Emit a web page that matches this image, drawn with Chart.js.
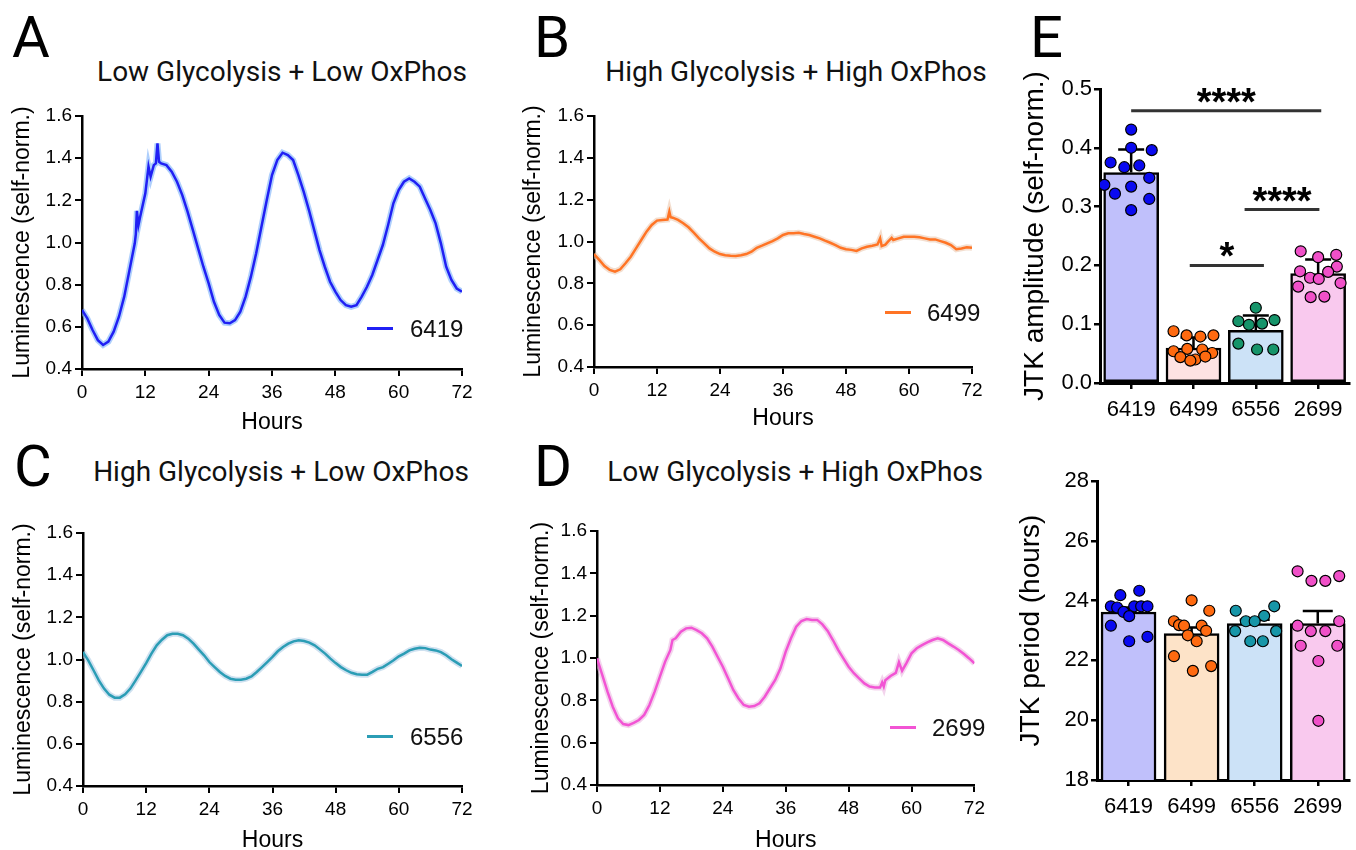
<!DOCTYPE html>
<html>
<head>
<meta charset="utf-8">
<script src="https://cdn.jsdelivr.net/npm/chart.js@4.4.1/dist/chart.umd.min.js"></script>
<style>
  html, body { margin: 0; padding: 0; background: #fff; overflow: hidden; }
  body { width: 1356px; height: 850px; position: relative; }
  canvas { position: absolute; }
  .letter, .title, .leg { position: absolute; white-space: nowrap; color: #000; }
  .letter { font-family: Roboto, sans-serif; font-size: 58px; line-height: 58px; }
  .title { font-family: Roboto, sans-serif; font-size: 28px; line-height: 28px; width: 500px; text-align: center; color: #111; }
  .leg { font-family: "Liberation Sans", Arial, sans-serif; font-size: 24px; line-height: 24px; color: #111; }
  .swatch { position: absolute; width: 26px; height: 3px; }
</style>
</head>
<body>

<div class="letter" style="left:12px;top:8px">A</div>
<div class="letter" style="left:534px;top:8px">B</div>
<div class="letter" style="left:14px;top:437px">C</div>
<div class="letter" style="left:534px;top:437px">D</div>
<div class="letter" style="left:1030px;top:8px">E</div>

<div class="title" style="left:32px;top:58px">Low Glycolysis + Low OxPhos</div>
<div class="title" style="left:546px;top:58px">High Glycolysis + High OxPhos</div>
<div class="title" style="left:31px;top:458px">High Glycolysis + Low OxPhos</div>
<div class="title" style="left:545px;top:458px">Low Glycolysis + High OxPhos</div>

<canvas id="chartA" width="480" height="340" style="left:0px;top:100px"></canvas>
<canvas id="chartB" width="480" height="340" style="left:510px;top:100px"></canvas>
<canvas id="chartC" width="480" height="345" style="left:0px;top:515px"></canvas>
<canvas id="chartD" width="480" height="345" style="left:510px;top:515px"></canvas>
<canvas id="chartAmp" width="356" height="360" style="left:1000px;top:70px"></canvas>
<canvas id="chartPer" width="356" height="375" style="left:1000px;top:460px"></canvas>

<div class="swatch" style="left:367px;top:327px;background:#2020f4"></div>
<div class="leg" style="left:410px;top:317px">6419</div>
<div class="swatch" style="left:885px;top:311px;background:#ff7425"></div>
<div class="leg" style="left:927px;top:301px">6499</div>
<div class="swatch" style="left:367px;top:735px;background:#2b9db5"></div>
<div class="leg" style="left:410px;top:725px">6556</div>
<div class="swatch" style="left:890px;top:726px;background:#f254d4"></div>
<div class="leg" style="left:932px;top:716px">2699</div>

<script>
// ---- luminescence traces (hours, self-normalised) ----
const hourTicks = [0, 12, 24, 36, 48, 60, 72];
const lumTicks = [0.4, 0.6, 0.8, 1.0, 1.2, 1.4, 1.6];

const timeA = [0,1,2,3,4,5,6,7,8,9,10,10.2,10.4,10.7,11,12,12.6,13,13.6,14,14.3,14.6,15,16,17,18,19,20,21,22,23,24,25,26,27,28,29,30,31,32,33,34,35,36,37,38,39,40,41,42,43,44,45,46,47,48,49,50,51,52,53,54,55,56,57,58,59,60,61,62,63,64,65,66,67,68,69,70,71,72];
const lum6419 = [0.680,0.640,0.585,0.537,0.514,0.530,0.577,0.648,0.743,0.870,0.996,1.040,1.150,1.083,1.120,1.233,1.360,1.312,1.367,1.375,1.470,1.383,1.375,1.367,1.336,1.288,1.225,1.146,1.060,0.972,0.885,0.806,0.719,0.656,0.620,0.617,0.632,0.672,0.743,0.838,0.949,1.075,1.200,1.320,1.391,1.426,1.415,1.391,1.320,1.241,1.154,1.059,0.964,0.885,0.814,0.767,0.727,0.703,0.695,0.703,0.743,0.790,0.846,0.917,0.988,1.083,1.186,1.249,1.288,1.304,1.288,1.265,1.209,1.154,1.091,0.996,0.885,0.822,0.782,0.767];

const timeB = [0,1,2,3,4,5,6,7,8,9,10,11,12,13,14,14.35,14.6,15,16,17,18,19,20,21,22,23,24,25,26,27,28,29,30,31,32,33,34,35,36,37,38,39,40,41,42,43,44,45,46,47,48,49,50,51,52,53,54,54.5,54.8,55.5,56,56.7,57,58,59,60,61,62,63,64,65,66,67,68,69,70,71,72];
const lum6499 = [0.940,0.912,0.883,0.864,0.856,0.867,0.896,0.927,0.967,1.007,1.047,1.079,1.100,1.103,1.105,1.143,1.116,1.114,1.103,1.087,1.068,1.042,1.015,0.991,0.967,0.951,0.940,0.934,0.932,0.931,0.934,0.940,0.951,0.970,0.980,0.991,1.002,1.015,1.031,1.039,1.039,1.042,1.036,1.031,1.023,1.015,1.004,0.994,0.983,0.970,0.963,0.960,0.955,0.967,0.975,0.980,0.986,1.015,0.978,0.985,0.999,1.017,1.007,1.015,1.023,1.023,1.023,1.020,1.015,1.010,1.010,1.002,0.994,0.983,0.963,0.967,0.972,0.970];

const timeC = [0,1,2,3,4,5,6,7,8,9,10,11,12,13,14,15,16,17,18,19,20,21,22,23,24,25,26,27,28,29,30,31,32,33,34,35,36,37,38,39,40,41,42,43,44,45,46,47,48,49,50,51,52,53,54,55,56,57,58,59,60,61,62,63,64,65,66,67,68,69,70,71,72];
const lum6556 = [1.035,0.996,0.949,0.901,0.862,0.833,0.819,0.819,0.835,0.862,0.901,0.941,0.983,1.028,1.067,1.094,1.115,1.122,1.122,1.115,1.099,1.075,1.047,1.020,0.988,0.964,0.941,0.922,0.909,0.904,0.904,0.909,0.920,0.941,0.964,0.988,1.012,1.039,1.059,1.075,1.086,1.091,1.088,1.080,1.067,1.048,1.028,1.004,0.983,0.964,0.949,0.937,0.930,0.928,0.928,0.941,0.956,0.964,0.980,0.996,1.015,1.028,1.043,1.051,1.056,1.054,1.047,1.043,1.035,1.020,1.001,0.985,0.969];

const timeD = [0,1,2,3,4,5,6,7,8,9,10,11,12,13,14,14.4,15,16,17,18,19,20,21,22,23,24,25,26,27,28,29,30,31,32,33,34,35,36,37,38,39,40,41,42,43,44,45,46,47,48,49,50,51,52,53,54,54.4,54.7,55,56,57,57.6,58.2,59,60,61,62,63,64,65,66,67,68,69,70,71,72];
const lum2699 = [0.998,0.920,0.841,0.770,0.715,0.688,0.683,0.694,0.707,0.731,0.778,0.841,0.912,0.983,1.038,1.085,1.093,1.124,1.140,1.143,1.132,1.117,1.093,1.054,1.006,0.959,0.904,0.849,0.809,0.778,0.770,0.773,0.786,0.817,0.857,0.896,0.951,1.030,1.093,1.148,1.175,1.184,1.180,1.180,1.159,1.128,1.085,1.038,0.998,0.959,0.928,0.904,0.880,0.865,0.861,0.861,0.885,0.865,0.895,0.915,0.930,0.980,0.940,0.975,1.022,1.046,1.061,1.074,1.085,1.093,1.085,1.069,1.054,1.038,1.019,0.998,0.975];

// ---- JTK results ----
const groups = ['6419', '6499', '6556', '2699'];
const groupPos = [0, 1, 2, 3];

const ampMean = [0.358, 0.0595, 0.0896, 0.186];
const ampSem = [0.039, 0.018, 0.025, 0.024];
const ampDots = [
  [0.431, 0.400, 0.396, 0.375, 0.367, 0.370, 0.349, 0.337, 0.334, 0.322, 0.313, 0.294],
  [0.088, 0.081, 0.079, 0.081, 0.054, 0.058, 0.057, 0.051, 0.044, 0.040, 0.038, 0.045],
  [0.128, 0.105, 0.099, 0.101, 0.107, 0.067, 0.057, 0.057],
  [0.224, 0.214, 0.218, 0.198, 0.190, 0.179, 0.177, 0.189, 0.164, 0.170, 0.146, 0.147]
];
const ampJitter = [
  [0.0, 0.0, 0.33, -0.33, -0.11, 0.13, 0.29, -0.43, 0.0, -0.26, 0.29, 0.0],
  [-0.32, -0.11, 0.11, 0.32, -0.32, -0.10, 0.14, 0.30, -0.21, 0.03, -0.05, 0.19],
  [0.0, -0.28, -0.11, 0.10, 0.30, -0.28, 0.02, 0.28],
  [-0.28, 0.0, 0.29, 0.30, -0.29, -0.13, 0.01, 0.16, -0.32, 0.36, -0.12, 0.10]
];
const ampTicks = [0.0, 0.1, 0.2, 0.3, 0.4, 0.5];
const sigFrom = [0, 1.82, 0.94];
const sigTo = [3.05, 3.02, 2.13];
const sigLevel = [0.463, 0.295, 0.2];
const sigText = ['****', '****', '*'];

const perMean = [23.62, 22.90, 23.23, 23.23];
const perSem = [0.15, 0.2, 0.13, 0.42];
const perDots = [
  [24.33, 24.18, 23.81, 23.77, 23.62, 23.48, 23.81, 23.81, 23.81, 23.16, 22.64, 22.79],
  [24.01, 23.66, 23.31, 23.18, 23.16, 23.16, 22.99, 22.84, 22.64, 22.14, 21.81, 21.65],
  [23.66, 23.81, 23.49, 23.31, 23.31, 22.98, 22.98, 22.64, 22.64],
  [24.98, 24.66, 24.66, 24.82, 23.16, 23.31, 22.98, 22.98, 22.49, 22.49, 21.98, 19.98]
];
const perJitter = [
  [0.17, -0.13, -0.28, -0.18, -0.08, 0.01, 0.09, 0.20, 0.30, -0.28, 0.01, 0.30],
  [0.0, 0.28, -0.28, -0.20, -0.12, 0.16, 0.23, -0.06, 0.08, -0.28, 0.31, 0.02],
  [-0.30, 0.31, 0.15, -0.14, 0.0, -0.31, 0.34, -0.07, 0.13],
  [-0.32, -0.10, 0.12, 0.34, -0.32, 0.34, -0.11, 0.12, -0.27, 0.31, 0.01, 0.01]
];
const perTicks = [18, 20, 22, 24, 26, 28];

Chart.defaults.font.family = '"Liberation Sans", Arial, sans-serif';
Chart.defaults.color = '#000';

function pairs(xs, ys) {
  return xs.map((x, i) => ({ x: x, y: ys[i] }));
}

function lineChart(id, times, values, color, band, box) {
  const pts = pairs(times, values);
  new Chart(document.getElementById(id), {
    type: 'line',
    data: {
      datasets: [
        { data: pts, borderColor: color, borderWidth: 2.5, pointRadius: 0, order: 1 },
        { data: pts, borderColor: band, borderWidth: 6, pointRadius: 0, order: 2 }
      ]
    },
    options: {
      responsive: false,
      animation: false,
      layout: { padding: { top: box.pt, right: box.pr, left: 0, bottom: 0 } },
      plugins: { legend: { display: false }, tooltip: { enabled: false } },
      scales: {
        x: {
          type: 'linear', min: 0, max: 72,
          afterBuildTicks: s => { s.ticks = hourTicks.map(v => ({ value: v })); },
          afterFit: s => { s.height = box.xh; },
          border: { color: '#000', width: 2.5 },
          grid: { drawOnChartArea: false, color: '#000', lineWidth: 2, tickLength: 7 },
          ticks: { font: { size: 19 }, padding: 5, maxRotation: 0 },
          title: { display: true, text: 'Hours', font: { size: 23 }, padding: { top: 0, bottom: box.hb } }
        },
        y: {
          min: 0.4, max: 1.6,
          afterBuildTicks: s => { s.ticks = lumTicks.map(v => ({ value: v })); },
          afterFit: s => { s.width = box.yw; },
          border: { color: '#000', width: 2.5 },
          grid: { drawOnChartArea: false, color: '#000', lineWidth: 2, tickLength: 7 },
          ticks: { font: { size: 19 }, padding: 3, callback: v => v.toFixed(1) },
          title: { display: true, text: 'Luminescence (self-norm.)', font: { size: 23 }, padding: { top: box.yt, bottom: 0 } }
        }
      }
    }
  });
}

lineChart('chartA', timeA, lum6419, '#2020f4', 'rgba(120,175,250,0.6)', { pt: 16, pr: 18, xh: 71, yw: 82, hb: 4, yt: 9 });
lineChart('chartB', timeB, lum6499, '#ff7425', 'rgba(235,200,175,0.6)', { pt: 16, pr: 18, xh: 73, yw: 84, hb: 8, yt: 10 });
lineChart('chartC', timeC, lum6556, '#2b9db5', 'rgba(175,205,230,0.6)', { pt: 18, pr: 18, xh: 74, yw: 83, hb: 6, yt: 10 });
lineChart('chartD', timeD, lum2699, '#f254d4', 'rgba(235,185,225,0.6)', { pt: 16, pr: 12, xh: 75, yw: 87, hb: 6, yt: 18 });

// mean + SEM whiskers, drawn between the bars and the dots
const errorBars = {
  id: 'errorBars',
  beforeDatasetDraw(chart, args, opts) {
    if (args.index !== 1) return;
    const { ctx, scales: { xd, y } } = chart;
    ctx.save();
    ctx.strokeStyle = '#000';
    ctx.lineWidth = 2.5;
    opts.mean.forEach((m, i) => {
      const px = xd.getPixelForValue(groupPos[i]);
      const base = y.getPixelForValue(m);
      const top = y.getPixelForValue(m + opts.sem[i]);
      ctx.beginPath();
      ctx.moveTo(px, base);
      ctx.lineTo(px, top);
      ctx.moveTo(px - opts.cap, top);
      ctx.lineTo(px + opts.cap, top);
      ctx.stroke();
    });
    ctx.restore();
  }
};

// significance brackets
const sigMarks = {
  id: 'sigMarks',
  afterDatasetsDraw(chart, args, opts) {
    if (!opts.show) return;
    const { ctx, scales: { xd, y } } = chart;
    ctx.save();
    sigLevel.forEach((lvl, i) => {
      const x0 = xd.getPixelForValue(sigFrom[i]);
      const x1 = xd.getPixelForValue(sigTo[i]);
      const py = y.getPixelForValue(lvl);
      ctx.strokeStyle = '#333';
      ctx.lineWidth = 3;
      ctx.beginPath();
      ctx.moveTo(x0, py);
      ctx.lineTo(x1, py);
      ctx.stroke();
      ctx.fillStyle = '#000';
      ctx.font = 'bold 38px "Liberation Sans", Arial, sans-serif';
      ctx.textAlign = 'center';
      ctx.textBaseline = 'alphabetic';
      ctx.fillText(sigText[i], (x0 + x1) / 2, py + 4);
    });
    ctx.restore();
  }
};

function barChart(id, mean, sem, dots, jitter, fills, dotColors, yMin, yMax, yTicks, yTitle, box, showSig) {
  const pts = [];
  const cols = [];
  dots.forEach((vals, g) => {
    vals.forEach((v, k) => {
      pts.push({ x: groupPos[g] + jitter[g][k], y: v });
      cols.push(dotColors[g]);
    });
  });
  new Chart(document.getElementById(id), {
    type: 'bar',
    data: {
      labels: groups,
      datasets: [
        {
          type: 'bar', data: mean, backgroundColor: fills, xAxisID: 'x', grouped: false,
          borderColor: '#000', borderWidth: 2.5, borderSkipped: false,
          maxBarThickness: 55, categoryPercentage: 1, barPercentage: 1, order: 2
        },
        {
          type: 'scatter', data: pts, xAxisID: 'xd', backgroundColor: cols, borderColor: '#000',
          borderWidth: 1.2, pointRadius: 5.5, order: 1
        }
      ]
    },
    options: {
      responsive: false,
      animation: false,
      layout: { padding: { top: box.pt, right: box.pr, left: 0, bottom: 0 } },
      plugins: {
        legend: { display: false }, tooltip: { enabled: false },
        errorBars: { mean: mean, sem: sem, cap: box.cap },
        sigMarks: { show: showSig }
      },
      scales: {
        x: {
          type: 'category', offset: true,
          afterFit: s => { s.height = box.xh; },
          border: { color: '#000', width: 3 },
          grid: { offset: false, drawOnChartArea: false, color: '#000', lineWidth: 2.5, tickLength: 6 },
          ticks: { font: { size: 22 }, padding: 8, maxRotation: 0 }
        },
        xd: {
          type: 'linear', display: false, offset: false, bounds: 'data',
          min: -0.5, max: 3.5
        },
        y: {
          min: yMin, max: yMax,
          afterBuildTicks: s => { s.ticks = yTicks.map(v => ({ value: v })); },
          afterFit: s => { s.width = box.yw; },
          border: { color: '#000', width: 3 },
          grid: { drawOnChartArea: false, color: '#000', lineWidth: 2.5, tickLength: 6 },
          ticks: { font: { size: 22 }, padding: 2, callback: v => (yMax < 1 ? v.toFixed(1) : v) },
          title: { display: true, text: yTitle, font: { size: 28 }, padding: { top: box.yt, bottom: 0 } }
        }
      }
    },
    plugins: [errorBars, sigMarks]
  });
}

barChart('chartAmp', ampMean, ampSem, ampDots, ampJitter,
  ['#c0c0fb', '#fde2e2', '#cce2f7', '#f9c9ee'],
  ['#0a0af0', '#ff6a10', '#16946a', '#f050c8'],
  0, 0.5, ampTicks, 'JTK amplitude (self-norm.)',
  { pt: 19, pr: 1, xh: 47, yw: 100, yt: 18, cap: 13 }, true);

barChart('chartPer', perMean, perSem, perDots, perJitter,
  ['#c0c0fb', '#fde3c8', '#cce2f7', '#f9c9ee'],
  ['#0a0af0', '#ff6a10', '#1796a8', '#f050c8'],
  18, 28, perTicks, 'JTK period (hours)',
  { pt: 21, pr: 1, xh: 55, yw: 97, yt: 14, cap: 15 }, false);
</script>
</body>
</html>
